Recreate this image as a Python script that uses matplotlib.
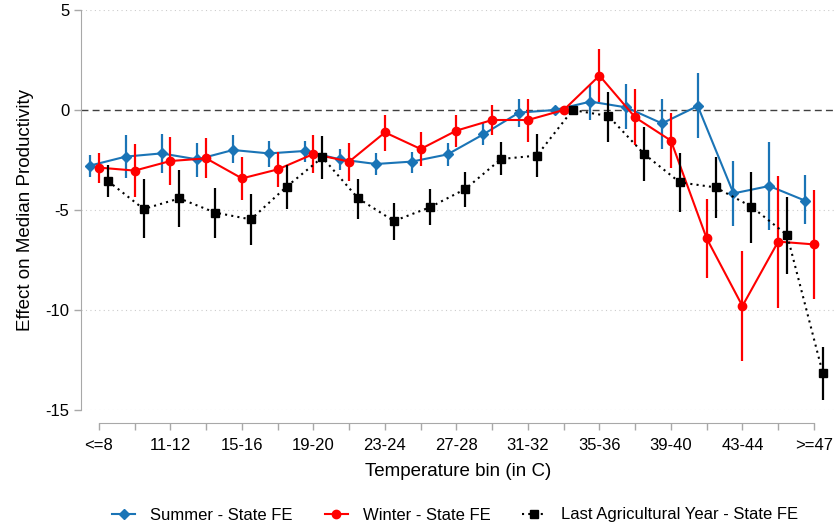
import numpy as np
import matplotlib.pyplot as plt

plt.rcParams['font.family'] = ['Liberation Sans', 'DejaVu Sans']
plt.rcParams['axes.unicode_minus'] = False

bins = ["<=8", "9-10", "11-12", "13-14", "15-16", "17-18", "19-20", "21-22",
        "23-24", "25-26", "27-28", "29-30", "31-32", "33-34", "35-36", "37-38",
        "39-40", "41-42", "43-44", "45-46", ">=47"]

summer = [-2.78, -2.33, -2.17, -2.47, -2.0, -2.17, -2.05, -2.47, -2.7, -2.58, -2.22,
          -1.22, -0.13, 0.0, 0.42, 0.13, -0.67, 0.2, -4.17, -3.8, -4.53]
summer_hi = [-2.25, -1.25, -1.2, -1.63, -1.25, -1.53, -1.53, -1.97, -2.17, -2.08, -1.67,
             -0.67, 0.53, 0.0, 1.25, 1.3, 0.53, 1.83, -2.55, -1.58, -3.25]
summer_lo = [-3.35, -3.4, -3.15, -3.33, -2.67, -2.83, -2.58, -3.0, -3.25, -3.13, -2.8,
             -1.75, -0.83, 0.0, -0.5, -0.95, -1.95, -1.42, -5.8, -6.0, -5.72]

winter = [-2.88, -3.03, -2.55, -2.42, -3.42, -2.97, -2.2, -2.58, -1.12, -1.95, -1.03,
          -0.5, -0.5, 0.0, 1.72, -0.37, -1.53, -6.42, -9.8, -6.58, -6.72]
winter_hi = [-2.13, -1.7, -1.33, -1.4, -2.33, -2.08, -1.25, -1.67, -0.25, -1.08, -0.25,
             0.25, 0.53, 0.0, 3.05, 1.03, -0.17, -4.45, -7.05, -3.3, -4.0]
winter_lo = [-3.67, -4.35, -3.75, -3.4, -4.5, -3.83, -3.17, -3.53, -2.03, -2.8, -1.87,
             -1.25, -1.58, 0.0, 0.4, -1.75, -2.92, -8.42, -12.55, -9.92, -9.45]

last = [-3.55, -4.95, -4.42, -5.13, -5.47, -3.83, -2.37, -4.42, -5.55, -4.87, -3.95,
        -2.45, -2.28, 0.0, -0.3, -2.2, -3.62, -3.87, -4.83, -6.25, -13.17]
last_hi = [-2.75, -3.47, -3.0, -3.92, -4.2, -2.75, -1.3, -3.47, -4.63, -3.97, -3.08,
           -1.58, -1.2, 0.0, 0.92, -0.87, -2.13, -2.33, -3.08, -4.33, -11.83]
last_lo = [-4.37, -6.38, -5.83, -6.38, -6.75, -4.95, -3.45, -5.47, -6.5, -5.75, -4.83,
           -3.25, -3.33, 0.0, -1.58, -3.55, -5.08, -5.42, -6.63, -8.22, -14.5]

BLUE = '#1a74b6'
RED = '#ff0000'

fig = plt.figure(figsize=(8.36, 5.31), dpi=100)
ax = fig.add_axes([81/836, 1 - 410/531, (835 - 81)/836, 400/531])

x = np.arange(len(bins))

# grid + zero line
for yv in [5, -5, -10, -15]:
    ax.axhline(yv, color='#cccccc', lw=0.8, ls=(0, (1, 3)), zorder=0)
ax.axhline(0, color='#404040', lw=1.0, ls=(0, (5, 3)), zorder=1)

series = [
    (x - 0.25, summer, summer_lo, summer_hi, BLUE, 'D', 5, '-', 'Summer - State FE'),
    (x, winter, winter_lo, winter_hi, RED, 'o', 6, '-', 'Winter - State FE'),
    (x + 0.25, last, last_lo, last_hi, 'black', 's', 5.5, (0, (1, 2)), 'Last Agricultural Year - State FE'),
]
handles = []
for i, (xs, y, lo, hi, c, m, ms, ls, lab) in enumerate(series):
    y = np.array(y)
    err = [y - np.array(lo), np.array(hi) - y]
    ax.errorbar(xs, y, yerr=err, fmt='none', ecolor=c, elinewidth=1.6, capsize=0, zorder=2 + i)
    h, = ax.plot(xs, y, color=c, lw=1.5, ls=ls, marker=m, ms=ms, mec=c, mfc=c, zorder=2 + i, label=lab)
    handles.append(h)

ax.set_ylim(-15, 5)
ax.set_xlim(-0.503, 20.59)
ax.set_yticks([5, 0, -5, -10, -15])
ax.set_xticks(x)
ax.set_xticklabels([b if k % 2 == 0 else '' for k, b in enumerate(bins)])

for s in ['top', 'right']:
    ax.spines[s].set_visible(False)
ax.spines['left'].set_color('#a8a8a8')
ax.spines['bottom'].set_color('#a8a8a8')
ax.spines['left'].set_bounds(-15, 5)
ax.spines['bottom'].set_bounds(0, 20)
ax.spines['bottom'].set_position(('outward', 9.5))
ax.tick_params(axis='both', colors='#a8a8a8', length=5, width=1, labelcolor='black', labelsize=12)
ax.tick_params(axis='x', pad=6)

ax.set_xlabel('Temperature bin (in C)', fontsize=13.5, labelpad=7)
ax.set_ylabel('Effect on Median Productivity', fontsize=13.5, labelpad=8)

fig.legend(handles=handles, loc='center', bbox_to_anchor=(455/836, 1 - 515/531), ncol=3,
           frameon=False, fontsize=12, handlelength=1.4, columnspacing=1.9, handletextpad=0.9)

fig.savefig('out.png', dpi=100)
